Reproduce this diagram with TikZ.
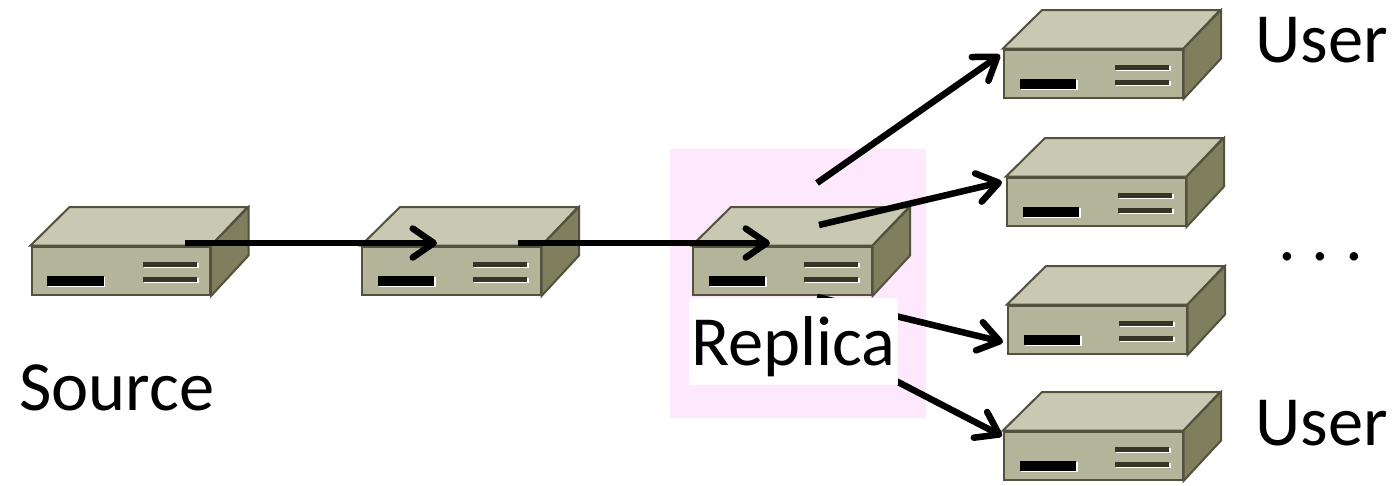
\documentclass[tikz,border=0pt]{standalone}
\usepackage{fontspec}
\setmainfont{Carlito}
\usetikzlibrary{arrows.meta}
\definecolor{devtop}{HTML}{C8C8B3}
\definecolor{devfront}{HTML}{B4B49B}
\definecolor{devside}{HTML}{7F7F5E}
\definecolor{devedge}{HTML}{54513F}
\definecolor{devbar}{HTML}{353525}
\definecolor{halo}{HTML}{FEE8FE}
\tikzset{
  x=1pt,y=-1pt,
  label text/.style={font=\fontsize{70.5}{70}\selectfont,inner sep=0pt,anchor=base west},
  link/.style={line width=6.5pt,draw=black,-{Straight Barb[length=21pt,width=29pt,line cap=round,line join=round]}},
  devpart/.style={draw=devedge,line width=2pt,line join=miter},
  pics/device/.style={code={
    \fill[white] (17.5,31.5) rectangle (74.5,41.5);
    \fill[white] (113,17.5) rectangle (168,22.5);
    \fill[white] (113,32.5) rectangle (168,37.5);
    \fill[black] (16.5,30) rectangle (73,40);
    \fill[devbar] (112,16) rectangle (166,21);
    \fill[devbar] (112,31) rectangle (166,36);
  }}
}
\newcommand{\devbox}[3]{%
  \node[devpart,fill=devfront,minimum width=178.5pt,minimum height=48.5pt,inner sep=0pt,anchor=north west] (#1) at (#2,#3) {};
  \filldraw[devpart,fill=devtop] (#1.north west) -- ++(39,-38.5) -- ++(178,0) -- (#1.north east) -- cycle;
  \filldraw[devpart,fill=devside] (#1.north east) -- ++(37.5,-38.5) -- ++(0,48.5) -- (#1.south east) -- cycle;
  \pic at (#1.north west) {device};
}
\begin{document}
\begin{tikzpicture}
\useasboundingbox (0,0) rectangle (1393,485);
\node[fill=halo,inner sep=0pt,minimum width=256pt,minimum height=269pt,anchor=north west] (glow) at (670,149) {};
\devbox{src}{30.5}{245.5}
\devbox{hop}{361}{245.5}
\devbox{rep}{692}{245.5}
\devbox{ua}{1003}{48.5}
\devbox{ub}{1006}{176.5}
\devbox{uc}{1007}{304.5}
\devbox{ud}{1003}{430.5}
\coordinate (a1) at (185,243); \coordinate (a2) at (437,243);
\coordinate (b1) at (518,243); \coordinate (b2) at (770,243);
\coordinate (c1) at (817,183); \coordinate (c2) at (1000,55);
\coordinate (d1) at (819,225); \coordinate (d2) at (1002,182);
\coordinate (e1) at (817,297); \coordinate (e2) at (1003,342);
\coordinate (f1) at (817,340); \coordinate (f2) at (1002,436);
\draw[link] (a1) -- (a2);
\draw[link] (b1) -- (b2);
\draw[link] (c1) -- (c2);
\draw[link] (d1) -- (d2);
\draw[link] (e1) -- (e2);
\draw[link] (f1) -- (f2);
\node[fill=white,inner sep=0pt,minimum width=209pt,minimum height=87pt,anchor=north west] (repbg) at (689,298) {};
\node[label text] (replica) at (691,365) {Replica};
\node[label text] (source) at (19,410) {Source};
\node[label text] (usera) at (1255,62) {User};
\node[label text] (userb) at (1255,445) {User};
\node[label text] (dots) at (1278,260.5) {\frenchspacing . . .};
\end{tikzpicture}
\end{document}
